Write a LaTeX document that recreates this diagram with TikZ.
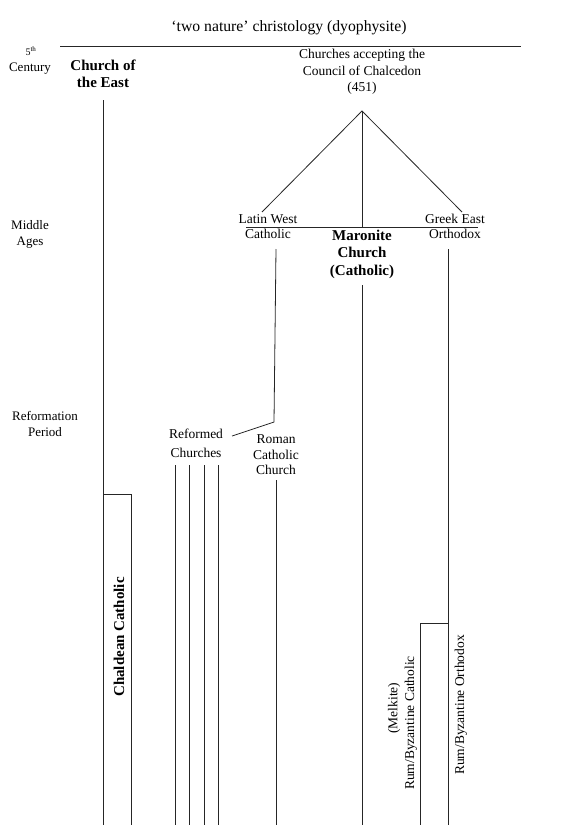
\documentclass[tikz,border=0pt]{standalone}
\usepackage{fontspec}
\setmainfont{Liberation Serif}
\begin{document}
\begin{tikzpicture}[x=1pt,y=-1pt,line width=0.8pt,draw=black!85,
  lbl/.style={align=center,inner sep=0pt,font=\fontsize{13.5}{15.5}\selectfont},
  big/.style={align=center,inner sep=0pt,font=\fontsize{15}{17.5}\selectfont\bfseries},
  side/.style={align=center,inner sep=0pt,font=\fontsize{13}{16}\selectfont}]
\useasboundingbox (0,0) rectangle (565,835);
% titre et ligne du haut
\node[inner sep=0pt,font=\fontsize{15.7}{18}\selectfont] (title) at (289,28) {`two nature' christology (dyophysite)};
\coordinate (topL) at (60,46);
\coordinate (topR) at (521,46);
\draw (topL) -- (topR);
% périodes
\node[side] (fifth) at (31,51) {\fontsize{10}{11}\selectfont 5\textsuperscript{th}};
\node[side] (century) at (30,69) {Century};
\node[side] (middle) at (30,234) {Middle\\Ages};
\node[side] (reform) at (45,424) {Reformation\\Period};
% Église de l'Orient
\node[big] (east) at (103,74) {Church of\\the East};
\coordinate (eastTop) at (103,100);
\coordinate (eastBot) at (103,825);
\draw (eastTop) -- (eastBot);
% chaldéens
\coordinate (chalTop) at (131,494);
\coordinate (chalBot) at (131,825);
\draw (103,494) -- (chalTop) -- (chalBot);
\node[big,rotate=90] (chaldean) at (119,637) {Chaldean Catholic};
% Chalcédoine
\node[lbl,font=\fontsize{13.5}{16.5}\selectfont] (chalc) at (362,72) {Churches accepting the\\Council of Chalcedon\\(451)};
\coordinate (apex) at (362,111);
\coordinate (footL) at (262,212);
\coordinate (footR) at (462,212);
\coordinate (footM) at (362,227);
\draw (footL) -- (apex) -- (footR);
\draw (apex) -- (footM);
\coordinate (barL) at (246,227);
\coordinate (barR) at (478,227);
\draw (barL) -- (barR);
\node[lbl] (latin) at (268,226.5) {Latin West\\Catholic};
\node[lbl] (greek) at (455,226.5) {Greek East\\Orthodox};
\node[big] (maronite) at (362,254) {Maronite\\Church\\(Catholic)};
\coordinate (maroTop) at (362,285);
\coordinate (maroBot) at (362,825);
\draw (maroTop) -- (maroBot);
% Occident latin
\coordinate (latinTop) at (276,249);
\coordinate (split) at (274,422);
\coordinate (refEnd) at (232,436);
\draw (latinTop) -- (split) -- (refEnd);
\node[lbl,font=\fontsize{13.5}{19}\selectfont] (reformed) at (196,443.5) {Reformed\\Churches};
\node[lbl] (roman) at (276,455) {Roman\\Catholic\\Church};
\coordinate (romeTop) at (276,480);
\coordinate (romeBot) at (276,825);
\draw (romeTop) -- (romeBot);
\foreach \x in {175,189,204,218}
  \draw (\x,465) -- (\x,825);
% Orient grec
\coordinate (greekTop) at (448,249);
\coordinate (greekBot) at (448,825);
\draw (greekTop) -- (greekBot);
\coordinate (melkTop) at (420,623);
\coordinate (melkBot) at (420,825);
\draw (448,623) -- (melkTop) -- (melkBot);
\node[lbl,rotate=90] (melkite) at (394,708) {(Melkite)};
\node[lbl,rotate=90] (rumcath) at (411,723) {Rum/Byzantine Catholic};
\node[lbl,rotate=90] (rumorth) at (461,705) {Rum/Byzantine Orthodox};
\end{tikzpicture}
\end{document}
